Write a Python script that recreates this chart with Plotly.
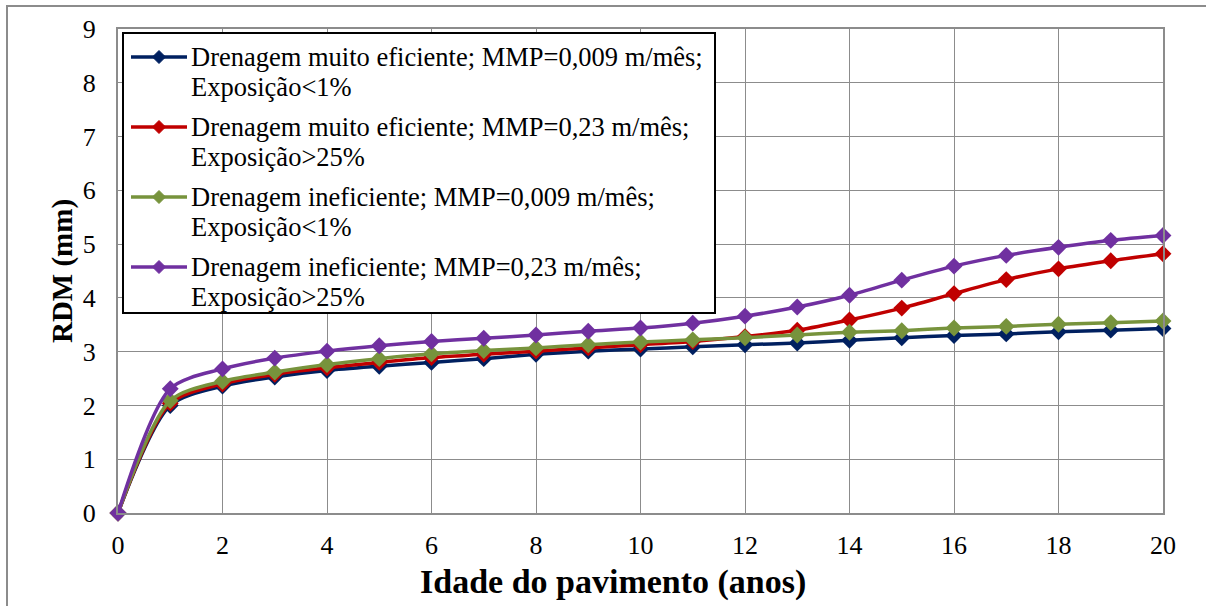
import plotly.graph_objects as go

# Pavement age (years)
idade = list(range(0, 21))

# RDM (mm) for each drainage / climate scenario
rdm_muito_ef_009 = [0, 2.00, 2.36, 2.53, 2.65, 2.73, 2.80, 2.87, 2.95, 3.01, 3.05,
                    3.09, 3.13, 3.16, 3.21, 3.26, 3.30, 3.33, 3.37, 3.40, 3.43]
rdm_muito_ef_023 = [0, 2.04, 2.40, 2.58, 2.70, 2.80, 2.89, 2.95, 3.01, 3.07, 3.13,
                    3.19, 3.28, 3.40, 3.59, 3.81, 4.08, 4.34, 4.54, 4.69, 4.82]
rdm_inef_009 = [0, 2.09, 2.45, 2.62, 2.76, 2.87, 2.96, 3.02, 3.07, 3.13, 3.18,
                3.22, 3.26, 3.31, 3.36, 3.39, 3.44, 3.47, 3.51, 3.54, 3.57]
rdm_inef_023 = [0, 2.31, 2.68, 2.88, 3.01, 3.11, 3.19, 3.25, 3.31, 3.38, 3.44,
                3.53, 3.66, 3.83, 4.05, 4.33, 4.59, 4.79, 4.94, 5.07, 5.16]

series_names = [
    ("Drenagem muito eficiente; MMP=0,009 m/mês;", "Exposição<1%"),
    ("Drenagem muito eficiente; MMP=0,23 m/mês;", "Exposição>25%"),
    ("Drenagem ineficiente; MMP=0,009 m/mês;", "Exposição<1%"),
    ("Drenagem ineficiente; MMP=0,23 m/mês;", "Exposição>25%"),
]
series_values = [rdm_muito_ef_009, rdm_muito_ef_023, rdm_inef_009, rdm_inef_023]
series_colors = ["#002060", "#C00000", "#77933C", "#7030A0"]

FONT = "Liberation Serif"
W, H = 1206, 606
L, R, T, B = 118, W - 1163, 29, H - 513
pw, ph = W - L - R, H - T - B


def px(xp):
    """Horizontal pixel position -> paper coordinate."""
    return (xp - L) / pw


def py(yp):
    """Vertical pixel position -> paper coordinate."""
    return 1 - (yp - T) / ph


fig = go.Figure()
for (l1, l2), vals, color in zip(series_names, series_values, series_colors):
    fig.add_trace(go.Scatter(
        x=idade, y=vals, name=f"{l1} {l2}", mode="lines+markers",
        line=dict(color=color, width=3.5, shape="spline", smoothing=0.8),
        marker=dict(symbol="diamond", size=13, color=color),
        cliponaxis=False, showlegend=False,
    ))

fig.update_layout(
    width=W, height=H,
    margin=dict(l=L, r=R, t=T, b=B),
    paper_bgcolor="white", plot_bgcolor="white",
    font=dict(family=FONT, size=26, color="black"),
    xaxis=dict(
        range=[0, 20], dtick=2, tick0=0,
        showgrid=True, gridcolor="#8c8c8c", gridwidth=1,
        showline=True, linecolor="#8c8c8c", linewidth=2, mirror=True,
        zeroline=False, ticks="", ticklabelstandoff=8,
        tickfont=dict(family=FONT, size=26),
    ),
    yaxis=dict(
        range=[0, 9], dtick=1, tick0=0,
        showgrid=True, gridcolor="#8c8c8c", gridwidth=1,
        showline=True, linecolor="#8c8c8c", linewidth=2, mirror=True,
        zeroline=False, ticks="", ticklabelstandoff=15,
        tickfont=dict(family=FONT, size=26),
        title=dict(text="<b>RDM (mm)</b>",
                   font=dict(family=FONT, size=29), standoff=2),
    ),
)

# Horizontal axis title
fig.add_annotation(
    text="<b>Idade do pavimento (anos)</b>",
    xref="paper", yref="paper", x=px(613), y=py(582),
    xanchor="center", yanchor="middle", showarrow=False,
    font=dict(family=FONT, size=34, color="black"),
)

# Legend box with line + diamond samples and two-line labels
fig.add_shape(
    type="rect", xref="paper", yref="paper",
    x0=px(123), x1=px(715), y0=py(313), y1=py(33),
    line=dict(color="black", width=2), fillcolor="white", layer="above",
)
item_top, item_step, line_gap = 57, 70, 30
for i, ((l1, l2), color) in enumerate(zip(series_names, series_colors)):
    yc = item_top + i * item_step
    fig.add_shape(
        type="line", xref="paper", yref="paper",
        x0=px(131), x1=px(187), y0=py(yc), y1=py(yc),
        line=dict(color=color, width=3.5), layer="above",
    )
    cx, s = 159, 6.5
    fig.add_shape(
        type="path", xref="paper", yref="paper",
        path=(f"M {px(cx)},{py(yc - s)} L {px(cx + s)},{py(yc)} "
              f"L {px(cx)},{py(yc + s)} L {px(cx - s)},{py(yc)} Z"),
        line=dict(color=color, width=1), fillcolor=color, layer="above",
    )
    for j, txt in enumerate((l1, l2)):
        fig.add_annotation(
            text=txt, xref="paper", yref="paper",
            x=px(189), y=py(yc + j * line_gap),
            xanchor="left", yanchor="middle", showarrow=False,
            font=dict(family=FONT, size=26.5, color="black"),
        )

# Outer chart frame
fig.add_shape(
    type="rect", xref="paper", yref="paper",
    x0=px(7), x1=px(1215), y0=py(620), y1=py(6),
    line=dict(color="#8c8c8c", width=2), fillcolor="rgba(0,0,0,0)",
    layer="below",
)

fig.write_html("out.html")
